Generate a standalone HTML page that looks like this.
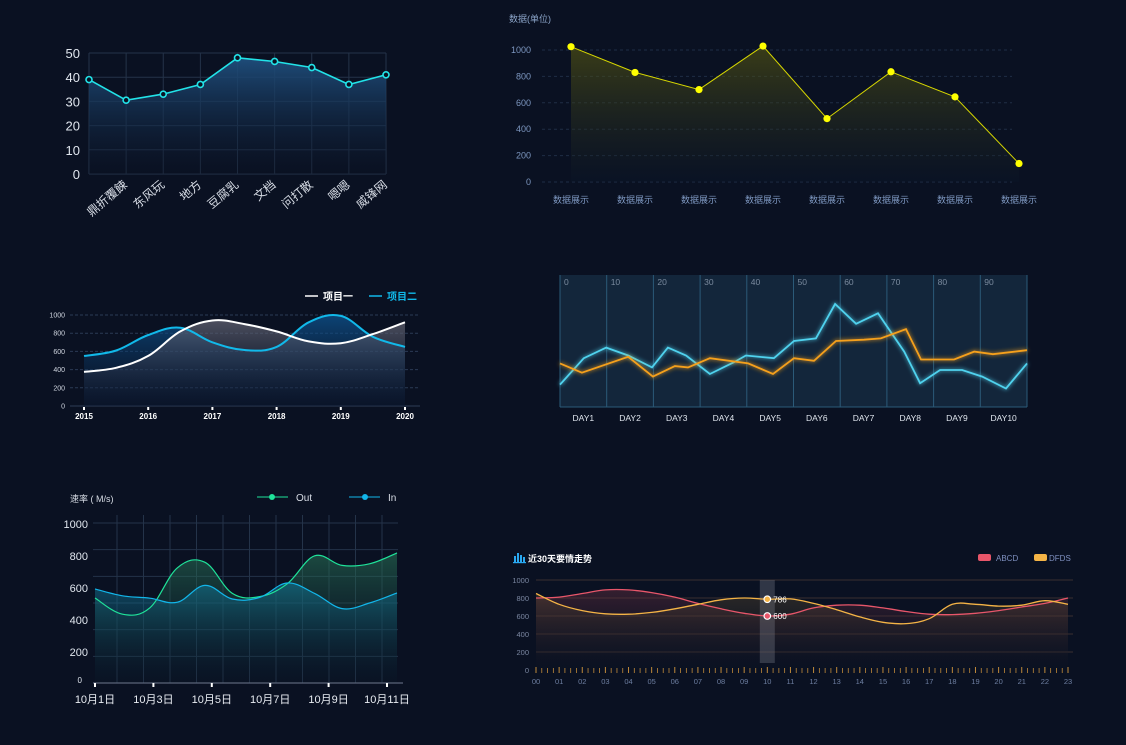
<!DOCTYPE html>
<html><head><meta charset="utf-8">
<style>
html,body{margin:0;padding:0;background:#0a1122;}
svg{display:block;font-family:"Liberation Sans","Noto Sans CJK SC",sans-serif;}
</style></head>
<body>
<svg id="s" width="1126" height="745" viewBox="0 0 1126 745">
<defs>
<linearGradient id="g1" x1="0" y1="0" x2="0" y2="1"><stop offset="0" stop-color="#1f4f7e" stop-opacity="0.95"/><stop offset="1" stop-color="#0a1122" stop-opacity="0.3"/></linearGradient>
<linearGradient id="g2" x1="0" y1="0" x2="0" y2="1"><stop offset="0" stop-color="#5a5a10" stop-opacity="0.6"/><stop offset="1" stop-color="#0a1628" stop-opacity="0.3"/></linearGradient>
<linearGradient id="g3w" x1="0" y1="0" x2="0" y2="1"><stop offset="0" stop-color="#6a6a78" stop-opacity="0.7"/><stop offset="1" stop-color="#0a1a35" stop-opacity="0.2"/></linearGradient>
<linearGradient id="g3b" x1="0" y1="0" x2="0" y2="1"><stop offset="0" stop-color="#0d5a9a" stop-opacity="0.7"/><stop offset="1" stop-color="#0a1a35" stop-opacity="0.2"/></linearGradient>
<linearGradient id="g5g" x1="0" y1="0" x2="0" y2="1"><stop offset="0" stop-color="#2a7a5a" stop-opacity="0.55"/><stop offset="1" stop-color="#0a1a2a" stop-opacity="0.1"/></linearGradient>
<linearGradient id="g5b" x1="0" y1="0" x2="0" y2="1"><stop offset="0" stop-color="#127a9a" stop-opacity="0.55"/><stop offset="1" stop-color="#0a1a2a" stop-opacity="0.1"/></linearGradient>
<linearGradient id="g6r" x1="0" y1="0" x2="0" y2="1"><stop offset="0" stop-color="#6a3040" stop-opacity="0.45"/><stop offset="1" stop-color="#0a1122" stop-opacity="0.1"/></linearGradient>
<linearGradient id="g6o" x1="0" y1="0" x2="0" y2="1"><stop offset="0" stop-color="#6a5530" stop-opacity="0.35"/><stop offset="1" stop-color="#0a1122" stop-opacity="0.1"/></linearGradient>
<filter id="glow"><feGaussianBlur stdDeviation="2" result="b"/><feMerge><feMergeNode in="b"/><feMergeNode in="SourceGraphic"/></feMerge></filter>
</defs>
</svg>
<script>
// ---------- data ----------
const c1Cats=['','鼎折覆餗','东风玩','地方','豆腐乳','文档','问打散','嗯嗯','威锋网'];
const c1Vals=[39,30.5,33,37,48,46.5,44,37,41];
const c1Ticks=[0,10,20,30,40,50];

const c2Cats=['数据展示','数据展示','数据展示','数据展示','数据展示','数据展示','数据展示','数据展示'];
const c2Vals=[1025,830,700,1030,480,835,645,140];
const c2Ticks=[0,200,400,600,800,1000];

const c3Years=[2015,2016,2017,2018,2019,2020];
const c3X=[2015,2015.5,2016,2016.5,2017,2017.5,2018,2018.5,2019,2019.5,2020];
const c3S1=[375,420,550,820,940,900,820,710,690,790,920];
const c3S2=[550,610,780,860,700,615,650,920,990,760,650];
const c3Ticks=[0,200,400,600,800,1000];

const c4Days=['DAY1','DAY2','DAY3','DAY4','DAY5','DAY6','DAY7','DAY8','DAY9','DAY10'];
const c4TopTicks=[0,10,20,30,40,50,60,70,80,90];
const c4BlueX=[0,5.1,9.9,14.6,19.7,23.1,27,32.1,37.3,39.8,45.8,50.1,54.8,58.9,63.4,68.1,73.7,77.1,81.4,86.1,90.4,95.5,100];
const c4BlueY=[17,37,45,39,30,45,39,25,34,39,37,50,52,78,63,71,42,18,28,28,23,14,33];
const c4OrX=[0,4.7,14.6,19.9,24.6,27.4,32.1,40.3,45.6,50.1,54.4,59.1,65.1,68.7,74.1,77.3,84.4,88.7,92.7,100];
const c4OrY=[33,26,38,23,31,30,37,33,25,37,35,50,51,52,59,36,36,42,40,43];

const c5Labels=['10月1日','10月3日','10月5日','10月7日','10月9日','10月11日'];
const c5Out=[531,430,470,720,755,560,540,620,795,735,745,813];
const c5In=[588,545,530,505,610,525,535,625,560,465,500,563];
const c5Ticks=[0,200,400,600,800,1000];

const c6Hours=['00','01','02','03','04','05','06','07','08','09','10','11','12','13','14','15','16','17','18','19','20','21','22','23'];
const c6A=[800,810,850,890,890,860,810,740,680,630,600,620,690,720,720,690,650,620,615,630,660,700,740,800];
const c6D=[850,730,660,625,620,640,680,730,780,800,786,790,740,670,590,530,515,570,730,730,710,720,770,730];
const c6Ticks=[0,200,400,600,800,1000];
const c6Sel=10;

// ---------- helpers ----------
const S=document.getElementById('s');
const NS='http://www.w3.org/2000/svg';
function mk(tag,attrs,parent,text){const e=document.createElementNS(NS,tag);for(const k in attrs)e.setAttribute(k,attrs[k]);if(text!==undefined)e.textContent=text;(parent||S).appendChild(e);return e;}
function lin(d0,d1,r0,r1){return v=>r0+(v-d0)/(d1-d0)*(r1-r0);}
function poly(pts){return pts.map((p,i)=>(i?'L':'M')+p[0].toFixed(1)+','+p[1].toFixed(1)).join('');}
function smooth(pts,t){t=t||0.18;let d='M'+pts[0][0]+','+pts[0][1];for(let i=0;i<pts.length-1;i++){const p0=pts[i-1]||pts[i],p1=pts[i],p2=pts[i+1],p3=pts[i+2]||p2;const c1=[p1[0]+(p2[0]-p0[0])*t,p1[1]+(p2[1]-p0[1])*t];const c2=[p2[0]-(p3[0]-p1[0])*t,p2[1]-(p3[1]-p1[1])*t];d+='C'+c1[0].toFixed(1)+','+c1[1].toFixed(1)+' '+c2[0].toFixed(1)+','+c2[1].toFixed(1)+' '+p2[0].toFixed(1)+','+p2[1].toFixed(1);}return d;}
function area(d,pts,base){return d+'L'+pts[pts.length-1][0]+','+base+'L'+pts[0][0]+','+base+'Z';}

// ---------- chart 1 ----------
(function(){
const g=mk('g',{});
const x=i=>lin(0,c1Vals.length-1,89,386)(i), y=lin(0,50,174,53);
c1Ticks.forEach(t=>{mk('line',{x1:89,x2:386,y1:y(t),y2:y(t),stroke:'#243349','stroke-width':1},g);
 const tx=mk('text',{x:80,y:y(t)+5,'text-anchor':'end',fill:'#e0e6ee','font-size':13},g,t);});
c1Vals.forEach((v,i)=>mk('line',{x1:x(i),x2:x(i),y1:53,y2:174,stroke:'#243349'},g));
const pts=c1Vals.map((v,i)=>[x(i),y(v)]);
mk('path',{d:area(poly(pts),pts,174),fill:'url(#g1)'},g);
mk('path',{d:poly(pts),fill:'none',stroke:'#22e3e8','stroke-width':1.6},g);
pts.forEach(p=>{const c=mk('circle',{cx:p[0],cy:p[1],r:3,fill:'#0a1122',stroke:'#22e3e8','stroke-width':1.6},g);});
c1Cats.forEach((c,i)=>{if(!c)return;const tx=mk('text',{x:x(i)+2,y:186,'text-anchor':'end',fill:'#d8dde6','font-size':12,transform:`rotate(-40 ${x(i)+2} 186)`},g,c);});
})();

// ---------- chart 2 ----------
(function(){
const g=mk('g',{});
const x=i=>lin(0,c2Vals.length-1,571,1019)(i), y=lin(0,1000,182,50);
const t=mk('text',{x:509,y:22,fill:'#8aa3c7','font-size':9},g,'数据(单位)');
c2Ticks.forEach(v=>{mk('line',{x1:542,x2:1012,y1:y(v),y2:y(v),stroke:'#1f2d45','stroke-dasharray':'3,3'},g);
 const tx=mk('text',{x:531,y:y(v)+3,'text-anchor':'end',fill:'#7d97c0','font-size':9},g,v);});
const pts=c2Vals.map((v,i)=>[x(i),y(v)]);
mk('path',{d:area(poly(pts),pts,182),fill:'url(#g2)'},g);
mk('path',{d:poly(pts),fill:'none',stroke:'#d8d800','stroke-width':1},g);
pts.forEach(p=>{const c=mk('circle',{cx:p[0],cy:p[1],r:3.6,fill:'#ffff00'},g);});
c2Cats.forEach((c,i)=>{const tx=mk('text',{x:x(i),y:203,'text-anchor':'middle',fill:'#7d97c0','font-size':9},g,c);});
})();

// ---------- chart 3 ----------
(function(){
const g=mk('g',{});
const x=lin(2015,2020,84,405), y=lin(0,1000,406,315);
c3Ticks.forEach(v=>{mk('line',{x1:70,x2:420,y1:y(v),y2:y(v),stroke:v?'#2a3a55':'#2f3d55','stroke-dasharray':v?'3,2':''},g);
 const tx=mk('text',{x:65,y:y(v)+2.5,'text-anchor':'end',fill:'#d0d6e0','font-size':7},g,v);});
const p1=c3X.map((v,i)=>[x(v),y(c3S1[i])]), p2=c3X.map((v,i)=>[x(v),y(c3S2[i])]);
const d1=smooth(p1),d2=smooth(p2);
mk('path',{d:area(d2,p2,406),fill:'url(#g3b)'},g);
mk('path',{d:area(d1,p1,406),fill:'url(#g3w)'},g);
const l2=mk('path',{d:d2,fill:'none',stroke:'#11b9ea','stroke-width':2},g);
const l1=mk('path',{d:d1,fill:'none',stroke:'#ffffff','stroke-width':2},g);
c3Years.forEach(v=>{mk('rect',{x:x(v)-1,y:407,width:2,height:3,fill:'#fff'},g);
 const tx=mk('text',{x:x(v),y:419,'text-anchor':'middle',fill:'#ffffff','font-size':8,'font-weight':'bold'},g,v);});
const le1=mk('g',{},g);
mk('line',{x1:305,x2:318,y1:296,y2:296,stroke:'#fff','stroke-width':1.5},le1);mk('text',{x:323,y:300,fill:'#fff','font-size':10,'font-weight':'bold'},le1,'项目一');
const le2=mk('g',{},g);
mk('line',{x1:369,x2:382,y1:296,y2:296,stroke:'#11b9ea','stroke-width':1.5},le2);mk('text',{x:387,y:300,fill:'#11b9ea','font-size':10,'font-weight':'bold'},le2,'项目二');
})();

// ---------- chart 4 ----------
(function(){
const g=mk('g',{});
const x=lin(0,100,560,1027), y=lin(0,100,407,275);
mk('rect',{x:560,y:275,width:467,height:132,fill:'#13263b'},g);
c4TopTicks.forEach(v=>{mk('line',{x1:x(v),x2:x(v),y1:275,y2:407,stroke:'#2b5a78','stroke-width':1},g);
 const tx=mk('text',{x:x(v)+4,y:285,fill:'#7a8a9e','font-size':8.5},g,v);});
mk('line',{x1:1027,x2:1027,y1:275,y2:407,stroke:'#2b5a78'},g);
mk('line',{x1:560,x2:1027,y1:407,y2:407,stroke:'#2b5a78'},g);
const pb=c4BlueX.map((v,i)=>[x(v),y(c4BlueY[i])]), po=c4OrX.map((v,i)=>[x(v),y(c4OrY[i])]);
const lb=mk('path',{d:poly(pb),fill:'none',stroke:'#4fd2ee','stroke-width':1.8,filter:'url(#glow)'},g);
const lo=mk('path',{d:poly(po),fill:'none',stroke:'#f5a01a','stroke-width':1.8,filter:'url(#glow)'},g);
c4Days.forEach((d,i)=>{const tx=mk('text',{x:x(i*10+5),y:421,'text-anchor':'middle',fill:'#e0e6ee','font-size':8.5},g,d);});
})();

// ---------- chart 5 ----------
(function(){
const g=mk('g',{});
const x=i=>lin(0,c5Out.length-1,95,397)(i), y=lin(0,1000,683,523);
const tt=mk('text',{x:70,y:502,fill:'#d8dde6','font-size':9},g,'速率 ( M/s)');
for(let k=0;k<6;k++){const yy=523+k*26.67;mk('line',{x1:93,x2:398,y1:yy,y2:yy,stroke:'#243349'},g);}
for(let k=0;k<11;k++){const xx=117+k*26.5;mk('line',{x1:xx,x2:xx,y1:515,y2:683,stroke:'#243349'},g);}
c5Ticks.forEach(v=>{const tx=mk('text',{x:v?88:82,y:y(v)+(v?5:0),'text-anchor':'end',fill:'#e0e6ee','font-size':v?11:8},g,v);});
const po=c5Out.map((v,i)=>[x(i),y(v)]), pi=c5In.map((v,i)=>[x(i),y(v)]);
const dO=smooth(po),dI=smooth(pi);
mk('path',{d:area(dO,po,683),fill:'url(#g5g)'},g);
mk('path',{d:area(dI,pi,683),fill:'url(#g5b)'},g);
const lo=mk('path',{d:dO,fill:'none',stroke:'#1fe39a','stroke-width':1.2},g);
const li=mk('path',{d:dI,fill:'none',stroke:'#12b6ea','stroke-width':1.2},g);
mk('line',{x1:93,x2:403,y1:683,y2:683,stroke:'#5a6478','stroke-width':1.3},g);
c5Labels.forEach((l,i)=>{const xx=95+i*58.4;mk('rect',{x:xx-1,y:683,width:2,height:4,fill:'#fff'},g);
 const tx=mk('text',{x:xx,y:703,'text-anchor':'middle',fill:'#e8ecf2','font-size':11},g,l);});
const l1=mk('g',{},g);
mk('line',{x1:257,x2:288,y1:497,y2:497,stroke:'#1fe39a'},l1);mk('circle',{cx:272,cy:497,r:3,fill:'#1fe39a'},l1);mk('text',{x:296,y:501,fill:'#d8dde6','font-size':10},l1,'Out');
const l2=mk('g',{},g);
mk('line',{x1:349,x2:380,y1:497,y2:497,stroke:'#12b6ea'},l2);mk('circle',{cx:365,cy:497,r:3,fill:'#12b6ea'},l2);mk('text',{x:388,y:501,fill:'#d8dde6','font-size':10},l2,'In');
})();

// ---------- chart 6 ----------
(function(){
const g=mk('g',{});
const x=i=>lin(0,23,536,1068)(i), y=lin(0,1000,670,580);
const ic=mk('g',{},g);
[[514,556,2,6],[517,553,2,9],[520,555,2,7],[523,557,2,5]].forEach(r=>mk('rect',{x:r[0],y:r[1],width:r[2],height:r[3],fill:'#2aa8f0'},ic));
mk('rect',{x:513,y:562,width:13,height:1.2,fill:'#2aa8f0'},ic);
const tt=mk('text',{x:528,y:562,fill:'#ffffff','font-size':9,'font-weight':'bold'},g,'近30天要情走势');
c6Ticks.forEach(v=>{if(v)mk('line',{x1:536,x2:1073,y1:y(v),y2:y(v),stroke:'#3a3030','stroke-width':1},g);
 const tx=mk('text',{x:529,y:y(v)+3,'text-anchor':'end',fill:'#7a86a0','font-size':7.5},g,v);});
const pa=c6A.map((v,i)=>[x(i),y(v)]), pd=c6D.map((v,i)=>[x(i),y(v)]);
const dA=smooth(pa),dD=smooth(pd);
mk('path',{d:area(dA,pa,670),fill:'url(#g6r)'},g);
mk('path',{d:area(dD,pd,670),fill:'url(#g6o)'},g);
mk('rect',{x:x(c6Sel)-7.5,y:580,width:15,height:83,fill:'#8a8f9a','fill-opacity':0.3},g);
const la=mk('path',{d:dA,fill:'none',stroke:'#e8566a','stroke-width':1.3},g);
const ld=mk('path',{d:dD,fill:'none',stroke:'#f5b446','stroke-width':1.3},g);
[[c6D,'#f5b446'],[c6A,'#e8566a']].forEach(s=>{const v=s[0][c6Sel];const c=mk('circle',{cx:x(c6Sel),cy:y(v),r:3.3,fill:s[1],stroke:'#fff','stroke-width':1.2},g);
 const tx=mk('text',{x:x(c6Sel)+6,y:y(v)+3,fill:'#fff','font-size':8},g,v);});
for(let k=0;k<=23*4;k++){const xx=536+k*(532/92);const big=k%4===0;mk('line',{x1:xx,x2:xx,y1:big?667:668,y2:673,stroke:'#c08a3a','stroke-width':big?1:0.8},g);}
c6Hours.forEach((h,i)=>{const tx=mk('text',{x:x(i),y:684,'text-anchor':'middle',fill:'#6d7ea0','font-size':7.5},g,h);});
const l1=mk('g',{},g);
mk('rect',{x:978,y:554,width:13,height:7,rx:2,fill:'#e8566a'},l1);mk('text',{x:996,y:561,fill:'#7f90c0','font-size':8},l1,'ABCD');
const l2=mk('g',{},g);
mk('rect',{x:1034,y:554,width:13,height:7,rx:2,fill:'#f5b446'},l2);mk('text',{x:1049,y:561,fill:'#7f90c0','font-size':8},l2,'DFDS');
})();
</script>
</body></html>
